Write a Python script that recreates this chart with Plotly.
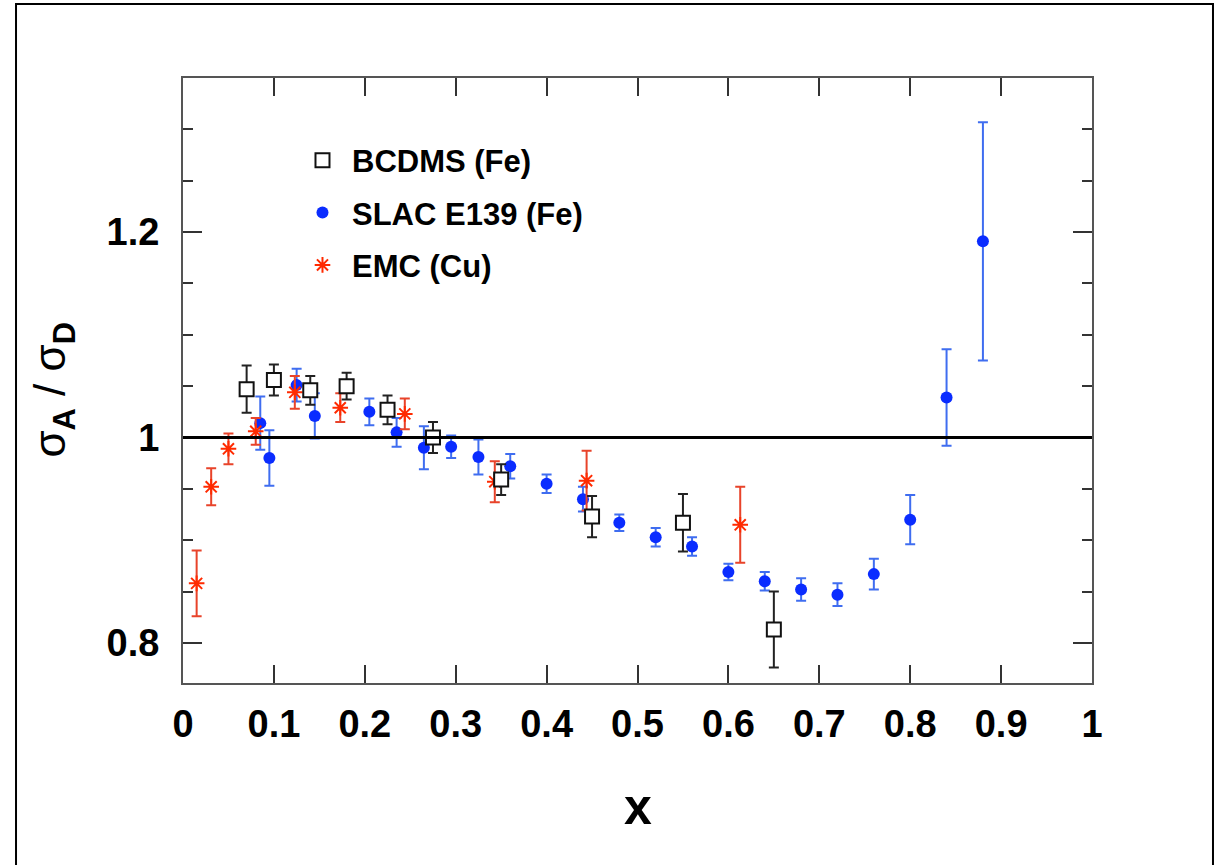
import plotly.graph_objects as go

# BCDMS (Fe)
bcdms_x = [0.07, 0.10, 0.14, 0.18, 0.225, 0.275, 0.35, 0.45, 0.55, 0.65]
bcdms_y = [1.047, 1.056, 1.046, 1.050, 1.027, 1.000, 0.959, 0.923, 0.917, 0.813]
bcdms_err = [0.023, 0.015, 0.014, 0.013, 0.014, 0.015, 0.015, 0.020, 0.028, 0.037]

# SLAC E139 (Fe)
slac_x = [0.085, 0.095, 0.125, 0.145, 0.205, 0.235, 0.265, 0.295, 0.325, 0.36, 0.40, 0.44,
          0.48, 0.52, 0.56, 0.60, 0.64, 0.68, 0.72, 0.76, 0.80, 0.84, 0.88]
slac_y = [1.014, 0.980, 1.051, 1.021, 1.025, 1.005, 0.990, 0.991, 0.981, 0.972, 0.955, 0.940,
          0.917, 0.903, 0.894, 0.869, 0.860, 0.852, 0.847, 0.867, 0.920, 1.039, 1.191]
slac_err = [0.026, 0.027, 0.016, 0.022, 0.013, 0.014, 0.021, 0.011, 0.017, 0.012, 0.009, 0.012,
            0.008, 0.009, 0.009, 0.008, 0.009, 0.011, 0.011, 0.015, 0.024, 0.047, 0.116]

# EMC (Cu)
emc_x = [0.015, 0.031, 0.050, 0.080, 0.123, 0.173, 0.244, 0.343, 0.444, 0.613]
emc_y = [0.858, 0.952, 0.989, 1.006, 1.044, 1.029, 1.023, 0.957, 0.958, 0.915]
emc_err = [0.032, 0.018, 0.015, 0.013, 0.016, 0.014, 0.015, 0.020, 0.029, 0.037]

font = "Liberation Sans, Arial, sans-serif"

fig = go.Figure()

fig.add_trace(go.Scatter(
    x=slac_x, y=slac_y, mode="markers", name="SLAC E139 (Fe)",
    legendrank=2, legendgroup="slac",
    marker=dict(symbol="circle", size=12, color="#0a2cff"),
    error_y=dict(type="data", array=slac_err, color="#3f6df0", thickness=2, width=5),
))
fig.add_trace(go.Scatter(
    x=emc_x, y=emc_y, mode="markers", name="EMC (Cu)",
    legendrank=3, legendgroup="emc",
    marker=dict(symbol="asterisk", size=13, color="#ff2a00",
                line=dict(color="#ff2a00", width=2)),
    error_y=dict(type="data", array=emc_err, color="#e8432a", thickness=2, width=5),
))
fig.add_trace(go.Scatter(
    x=bcdms_x, y=bcdms_y, mode="markers", name="BCDMS (Fe)",
    legendrank=1, legendgroup="bcdms",
    marker=dict(symbol="square", size=14, color="white",
                line=dict(color="#111111", width=2)),
    error_y=dict(type="data", array=bcdms_err, color="#222222", thickness=2, width=5),
))

# horizontal reference line at 1
fig.add_shape(type="line", xref="paper", x0=0, x1=1, yref="y", y0=1, y1=1,
              line=dict(color="black", width=3))

# outer frame of the figure
fig.add_shape(type="rect", xref="paper", yref="paper",
              x0=-0.1837, x1=1.1331, y0=-0.6, y1=1.1223,
              line=dict(color="black", width=2), fillcolor="rgba(0,0,0,0)")

fig.add_annotation(text="<b>x</b>", xref="paper", yref="paper", x=0.500, y=-0.254,
                   showarrow=False, font=dict(family=font, size=50, color="black"))
fig.add_annotation(text="σ<sub><b>A</b></sub> / σ<sub><b>D</b></sub>",
                   xref="paper", yref="paper", x=-0.176, y=0.485, textangle=-90,
                   showarrow=False, font=dict(family=font, size=44, color="black"))

axis_common = dict(
    showline=True, linecolor="#555555", linewidth=2, mirror="ticks",
    ticks="inside", tickcolor="#333333", tickwidth=2, showgrid=False, zeroline=False,
    tickfont=dict(family=font, size=38, color="black", weight="bold"),
)

fig.update_xaxes(range=[0, 1], tick0=0, dtick=0.1, ticklen=18,
                 ticklabelstandoff=6, **axis_common)
fig.update_yaxes(range=[0.761, 1.35], tick0=0, dtick=0.2, ticklen=19,
                 ticklabelstandoff=14,
                 minor=dict(dtick=0.05, ticklen=10, ticks="inside", tickcolor="#333333",
                            tickwidth=2, showgrid=False),
                 **axis_common)

fig.update_layout(
    width=1220, height=865,
    margin=dict(l=183, r=128, t=78, b=182),
    paper_bgcolor="white", plot_bgcolor="white",
    showlegend=True,
    legend=dict(x=0.121, y=0.908, xanchor="left", yanchor="top",
                bgcolor="rgba(0,0,0,0)", tracegroupgap=9, itemwidth=49,
                font=dict(family=font, size=31, color="black", weight="bold")),
)

# drop the default page margin so the figure sits at the window's corner
fig.write_html("out.html", config={"displayModeBar": False},
               post_script="document.body.style.margin='0px';")
